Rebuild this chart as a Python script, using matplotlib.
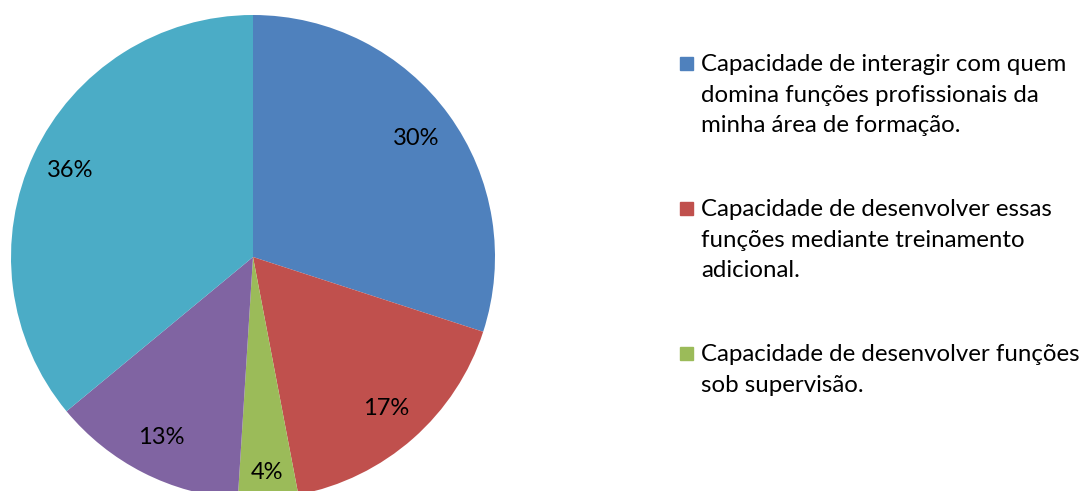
import matplotlib
matplotlib.use("Agg")
import matplotlib.pyplot as plt
from matplotlib.patches import Rectangle

# data
shares = [30, 17, 4, 13, 36]
colors = ["#4F81BD", "#C0504D", "#9BBB59", "#8064A2", "#4BACC6"]
legend_labels = [
    "Capacidade de interagir com quem\ndomina funções profissionais da\nminha área de formação.",
    "Capacidade de desenvolver essas\nfunções mediante treinamento\nadicional.",
    "Capacidade de desenvolver funções\nsob supervisão.",
]

plt.rcParams["font.family"] = ["Lato", "DejaVu Sans"]

W, H = 1088, 491
fig = plt.figure(figsize=(W / 100, H / 100), dpi=100)

# pie axes: centre (253, 257) px, radius 242 px
cx, cy, r = 253, 257, 242
ax = fig.add_axes([(cx - r) / W, (H - cy - r) / H, 2 * r / W, 2 * r / H])
wedges, texts, autotexts = ax.pie(
    shares, colors=colors, startangle=90, counterclock=False,
    autopct="%d%%", pctdistance=0.835, radius=1,
    textprops=dict(fontsize=17, color="black"),
)
ax.set_xlim(-1, 1)
ax.set_ylim(-1, 1)
ax.set_aspect("equal")
ax.axis("off")

# the small 4% label sits a bit further out in the original
x, y = autotexts[2].get_position()
autotexts[2].set_position((x * 1.07, y * 1.07))

# legend drawn by hand so the square lines up with the first text line
top = 63
for i, lab in enumerate(legend_labels):
    y0 = top + i * 145
    fig.patches.append(Rectangle((680 / W, 1 - (y0 + 6.5) / H), 13 / W, 13 / H,
                                 transform=fig.transFigure, color=colors[i]))
    fig.text(701 / W, 1 - (y0 - 9) / H, lab, fontsize=17.3, va="top", ha="left",
             linespacing=1.56, color="black")

fig.savefig("out.png", dpi=100)
